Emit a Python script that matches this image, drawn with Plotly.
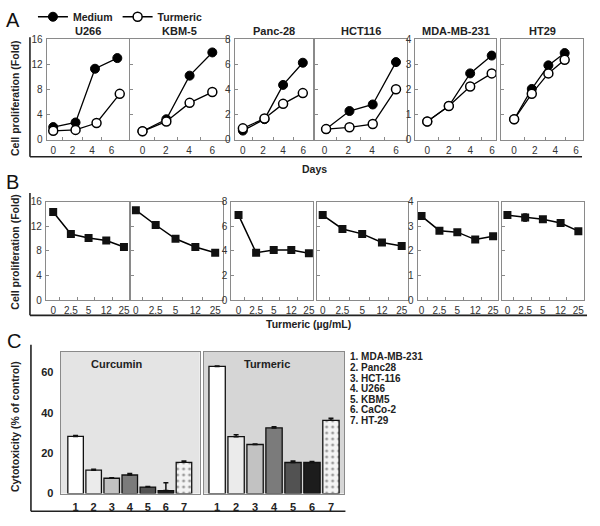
import plotly.graph_objects as go

W, H = 600, 526

# ---------------- Panel A : proliferation vs days ----------------
a_names = ["U266", "KBM-5", "Panc-28", "HCT116", "MDA-MB-231", "HT29"]
a_x_medium = [[0, 2.3, 4.3, 6.6], [0, 2.05, 4.05, 6.0], [0, 2.15, 4.0, 5.96],
              [0.14, 2.1, 4.05, 6.0], [0, 2.0, 3.98, 5.98], [0, 1.71, 3.32, 4.9]]
a_medium = [[2.0, 2.73, 11.3, 13.0], [1.33, 3.25, 10.2, 13.9], [0.72, 1.63, 4.36, 6.13],
            [0.42, 1.14, 1.4, 3.09], [0.72, 1.34, 2.64, 3.35], [0.81, 2.02, 2.96, 3.45]]
a_x_turmeric = [[0, 2.3, 4.46, 6.85], [0, 2.05, 4.05, 6.0], [0, 2.15, 4.0, 5.96],
                [0.14, 2.1, 4.05, 6.0], [0, 2.0, 3.98, 5.98], [0, 1.71, 3.32, 4.9]]
a_turmeric = [[1.4, 1.55, 2.65, 7.3], [1.33, 2.9, 5.86, 7.58], [0.9, 1.68, 2.85, 3.71],
              [0.42, 0.49, 0.62, 2.01], [0.72, 1.34, 2.12, 2.64], [0.81, 1.83, 2.64, 3.18]]
a_yticks = [[0, 4, 8, 12, 16], [0, 4, 8, 12, 16], [0, 2, 4, 6, 8],
            [0, 1, 2, 3, 4], [0, 1, 2, 3, 4], [0, 1, 2, 3, 4]]
a_show_ylabels = [True, False, True, False, True, False]
a_xticks = [0, 2, 4, 6]

# ---------------- Panel B : proliferation vs turmeric dose ----------------
b_conc = ["0", "2.5", "5", "12", "25"]
b_values = [[14.3, 10.75, 10.1, 9.7, 8.65], [14.6, 12.2, 9.97, 8.65, 7.7],
            [6.9, 3.86, 4.07, 4.07, 3.81], [3.45, 2.89, 2.69, 2.34, 2.2],
            [3.41, 2.82, 2.76, 2.46, 2.59], [3.45, 3.35, 3.28, 3.13, 2.8]]
b_errors = [[0.4, 0.3, 0.3, 0.3, 0.3], [0.3, 0.3, 0.3, 0.3, 0.3],
            [0.2, 0.15, 0.15, 0.15, 0.15], [0.08, 0.07, 0.07, 0.07, 0.07],
            [0.1, 0.08, 0.08, 0.07, 0.08], [0.1, 0.15, 0.06, 0.06, 0.06]]
b_yticks = a_yticks
b_show_ylabels = [True, False, True, False, True, False]

# ---------------- Panel C : cytotoxicity ----------------
c_ids = ["1", "2", "3", "4", "5", "6", "7"]
c_cell_lines = ["MDA-MB-231", "Panc28", "HCT-116", "U266", "KBM5", "CaCo-2", "HT-29"]
c_curcumin = [28.3, 11.6, 7.6, 9.2, 3.2, 1.5, 15.5]
c_curcumin_err = [0.5, 0.5, 0.2, 0.7, 0.3, 3.8, 0.6]
c_turmeric = [63.0, 28.2, 24.3, 32.5, 15.4, 15.4, 36.3]
c_turmeric_err = [0.2, 1.0, 0.3, 0.6, 0.7, 0.5, 1.0]
c_colors = ["#ffffff", "#ebebeb", "#c2c2c2", "#7b7b7b", "#525252", "#1c1c1c", "#f4f4f4"]
c_patterns = ["", "", "", "", "", "", "."]
c_yticks = [0, 20, 40, 60]

# ---------------- geometry (pixels) ----------------
a_frames_x = [(46.7, 129), (130.7, 229), (235, 313.3), (316, 408), (416, 497.3), (502, 584)]
a_xranges = [[-0.68, 7.78], [-1.03, 7.4], [-0.82, 6.95], [-0.75, 6.95], [-1.11, 6.42], [-1.26, 6.68]]
a_y = (35, 137.5)
b_frames_x = [(46, 129.3), (131.7, 223.3), (231.7, 314), (317.3, 408.3), (418.3, 499.3), (503.3, 585)]
b_xranges = [[-0.41, 4.29], [-0.22, 4.39], [-0.41, 4.26], [-0.3, 4.3], [-0.22, 4.3], [-0.28, 4.32]]
b_y = (200.7, 301.7)
c_frames_x = [(60.7, 200), (204, 345)]
c_xranges = [[0.17, 7.87], [0.29, 7.71]]
c_y = (354.3, 499)

FONT = "Liberation Sans, Arial, sans-serif"
FRAME = "#8a8a8a"
TICKFONT = dict(family=FONT, size=10, color="#333333")


def px(x):
    return x / W


def py(y):
    return 1 - y / H


fig = go.Figure()
layout = {}
annotations = []
shapes = []


def add_axes(i, fx, fy, xrange, yrange, xtickvals, xticktext, ytickvals, show_ylab,
             xminor=None):
    xa = "xaxis" if i == 1 else f"xaxis{i}"
    ya = "yaxis" if i == 1 else f"yaxis{i}"
    layout[xa] = dict(domain=[px(fx[0]), px(fx[1])], range=xrange, anchor=f"y{'' if i == 1 else i}",
                      showline=True, mirror=True, linecolor=FRAME, linewidth=1,
                      showgrid=False, zeroline=False, tickvals=xtickvals, ticktext=xticktext,
                      ticks="", tickfont=TICKFONT, ticklabelstandoff=1, fixedrange=True)
    if xminor is not None:
        layout[xa]["minor"] = dict(tickvals=xminor, ticks="inside", ticklen=3, tickcolor=FRAME)
    layout[ya] = dict(domain=[py(fy[1]), py(fy[0])], range=yrange, anchor=f"x{'' if i == 1 else i}",
                      showline=True, mirror=True, linecolor=FRAME, linewidth=1,
                      showgrid=False, zeroline=False, tickvals=ytickvals,
                      ticks="inside", ticklen=3, tickcolor=FRAME,
                      showticklabels=show_ylab, tickfont=TICKFONT, ticklabelstandoff=1,
                      fixedrange=True)


# Panel A
for k in range(6):
    i = k + 1
    add_axes(i, a_frames_x[k], a_y, a_xranges[k], [0, a_yticks[k][-1]],
             a_xticks, [str(v) for v in a_xticks], a_yticks[k], a_show_ylabels[k],
             xminor=[1, 3, 5])
    xr = "x" if i == 1 else f"x{i}"
    yr = "y" if i == 1 else f"y{i}"
    fig.add_trace(go.Scatter(x=a_x_medium[k], y=a_medium[k], mode="lines+markers", name="Medium",
                             xaxis=xr, yaxis=yr, showlegend=(k == 0), legendrank=1,
                             line=dict(color="black", width=1.3),
                             marker=dict(symbol="circle", size=9, color="black",
                                         line=dict(color="black", width=1))))
    fig.add_trace(go.Scatter(x=a_x_turmeric[k], y=a_turmeric[k], mode="lines+markers", name="Turmeric",
                             xaxis=xr, yaxis=yr, showlegend=(k == 0), legendrank=2,
                             line=dict(color="black", width=1.3),
                             marker=dict(symbol="circle", size=9, color="white",
                                         line=dict(color="black", width=1.5))))
    cx = (a_frames_x[k][0] + a_frames_x[k][1]) / 2
    annotations.append(dict(text=a_names[k], x=px(cx), y=py(27), xref="paper", yref="paper",
                            showarrow=False, xanchor="center", yanchor="middle",
                            font=dict(family=FONT, size=11, color="#222", weight="bold")))

# Panel B
b_idx = list(range(len(b_conc)))
for k in range(6):
    i = k + 7
    add_axes(i, b_frames_x[k], b_y, b_xranges[k], [0, b_yticks[k][-1]],
             b_idx, b_conc, b_yticks[k], b_show_ylabels[k],
             xminor=[v + 0.35 for v in b_idx[:-1]])
    fig.add_trace(go.Scatter(x=b_idx, y=b_values[k], mode="lines+markers", showlegend=False,
                             xaxis=f"x{i}", yaxis=f"y{i}",
                             line=dict(color="black", width=1.5),
                             error_y=dict(type="data", array=b_errors[k], color="black",
                                          thickness=1, width=2),
                             marker=dict(symbol="square", size=8, color="#111")))

# Panel C
c_x = [int(v) for v in c_ids]
for k, (vals, errs) in enumerate([(c_curcumin, c_curcumin_err), (c_turmeric, c_turmeric_err)]):
    i = 13 + k
    add_axes(i, c_frames_x[k], c_y, c_xranges[k], [0, 70.2], c_x, c_ids, c_yticks, k == 0)
    layout[f"yaxis{i}"]["ticks"] = ""
    layout[f"xaxis{i}"]["tickfont"] = dict(family=FONT, size=11, color="#222", weight="bold")
    layout[f"yaxis{i}"]["tickfont"] = dict(family=FONT, size=11, color="#222", weight="bold")
    layout[f"yaxis{i}"]["ticklabelstandoff"] = 4
    layout[f"xaxis{i}"]["ticklabelstandoff"] = 3
    fig.add_trace(go.Bar(x=c_x, y=vals, xaxis=f"x{i}", yaxis=f"y{i}", showlegend=False,
                         width=0.86,
                         marker=dict(color=c_colors, line=dict(color="#111", width=1.3),
                                     pattern=dict(shape=c_patterns, fillmode="overlay",
                                                  fgcolor="#d0d0d0", size=6, solidity=0.2)),
                         error_y=dict(type="data", array=errs, symmetric=False, arrayminus=[0] * 7,
                                      color="#111", thickness=1.5, width=2.5)))
    shapes.append(dict(type="rect", xref=f"x{i} domain", yref=f"y{i} domain", x0=0, x1=1, y0=0, y1=1,
                       fillcolor=["#e4e4e4", "#d6d6d6"][k], line=dict(width=0), layer="below"))

annotations += [
    dict(text="Curcumin", x=px(117), y=py(367)),
    dict(text="Turmeric", x=px(267), y=py(367)),
]
for a in annotations[-2:]:
    a.update(xref="paper", yref="paper", showarrow=False, xanchor="center", yanchor="middle",
             font=dict(family=FONT, size=11, color="#222", weight="bold"))

# Legend list for C
for j, name in enumerate(c_cell_lines):
    annotations.append(dict(text=f"{c_ids[j]}. {name}", x=px(349), y=py(359.5 + j * 10.8),
                            xref="paper", yref="paper", showarrow=False, xanchor="left",
                            yanchor="middle", font=dict(family=FONT, size=10, color="#222", weight="bold")))

# Panel letters and shared axis titles
for letter, x, y in [("A", 13, 15), ("B", 13, 181), ("C", 14, 343)]:
    annotations.append(dict(text=letter, x=px(x), y=py(y), xref="paper", yref="paper",
                            showarrow=False, xanchor="center", yanchor="middle",
                            font=dict(family=FONT, size=20, color="#111")))
annotations += [
    dict(text="Cell proliferation (Fold)", x=px(15), y=py(95), textangle=-90),
    dict(text="Cell proliferation (Fold)", x=px(15), y=py(252), textangle=-90),
    dict(text="Cytotoxicity (% of control)", x=px(15), y=py(430), textangle=-90),
    dict(text="Days", x=px(315), y=py(167)),
    dict(text="Turmeric (µg/mL)", x=px(309), y=py(326)),
]
for a in annotations[-5:]:
    a.update(xref="paper", yref="paper", showarrow=False, xanchor="center", yanchor="middle",
             font=dict(family=FONT, size=10.5, color="#222", weight="bold"))

# Bracket lines
LC = "#222"
for (x0, y0, x1, y1) in [(30, 33, 30, 155), (30, 155, 583, 155),
                         (30, 192, 30, 317), (30, 317, 588, 317),
                         (31, 347, 31, 517), (31, 517, 346, 517)]:
    shapes.append(dict(type="line", xref="paper", yref="paper", x0=px(x0), y0=py(y0),
                       x1=px(x1), y1=py(y1), line=dict(color=LC, width=1.6)))

fig.update_layout(
    width=W, height=H, margin=dict(l=0, r=0, t=0, b=0),
    paper_bgcolor="white", plot_bgcolor="white",
    annotations=annotations, shapes=shapes,
    legend=dict(orientation="h", x=px(33), y=py(12), xanchor="left", yanchor="middle",
                font=dict(family=FONT, size=10.5, color="#222", weight="bold"),
                itemwidth=30, tracegroupgap=0, bgcolor="rgba(0,0,0,0)"),
    bargap=0.1,
    **layout,
)

fig.write_html("out.html", config={"displayModeBar": False},
               post_script="document.body.style.margin='0';document.body.style.overflow='hidden';")
